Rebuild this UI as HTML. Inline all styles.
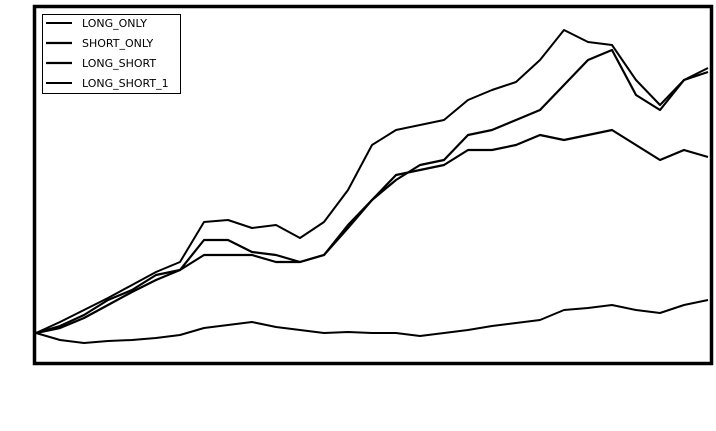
<!DOCTYPE html>
<html><head><meta charset="utf-8"><style>
body{margin:0;background:#fff;}
svg{display:block;font-family:"DejaVu Sans","Liberation Sans",sans-serif;}
</style></head><body>
<svg id="chart" width="716" height="431">
<rect x="34.5" y="6.5" width="677" height="357" fill="#fff" stroke="#000" stroke-width="3.5"/>
<g id="lines"></g>
<g>
<rect x="42.5" y="14.5" width="138" height="79" fill="#fff" stroke="#000" stroke-width="1"/>
<g id="legend-items"></g>
</g>
</svg>
<script>
const dates = [0,1,2,3,4,5,6,7,8,9,10,11,12,13,14,15,16,17,18,19,20,21,22,23,24,25,26,27,28];
const seriesNames = ["LONG_ONLY","SHORT_ONLY","LONG_SHORT","LONG_SHORT_1"];
const longOnly = [1.0,0.93,0.90,0.92,0.93,0.95,0.98,1.05,1.08,1.11,1.06,1.03,1.0,1.01,1.0,1.0,0.97,1.0,1.03,1.07,1.10,1.13,1.23,1.25,1.28,1.23,1.20,1.28,1.33];
const shortOnly = [1.0,1.05,1.15,1.28,1.41,1.53,1.63,1.78,1.78,1.78,1.71,1.71,1.78,2.05,2.33,2.58,2.63,2.68,2.83,2.83,2.88,2.98,2.93,2.98,3.03,2.88,2.73,2.83,2.76];
const longShort = [1.0,1.07,1.18,1.33,1.43,1.58,1.63,1.93,1.93,1.81,1.78,1.71,1.78,2.08,2.33,2.53,2.68,2.73,2.98,3.03,3.13,3.23,3.48,3.73,3.83,3.38,3.23,3.53,3.61];
const longShort1 = [1.0,1.11,1.23,1.35,1.48,1.61,1.71,2.11,2.13,2.05,2.08,1.95,2.11,2.43,2.88,3.03,3.08,3.13,3.33,3.43,3.51,3.73,4.03,3.91,3.88,3.53,3.28,3.53,3.65];
const allSeries = [longOnly, shortOnly, longShort, longShort1];
const widths = [2,2.2,2.2,2];

const X0=36, X1=708, YMIN=0.71, YMAX=4.26, PY0=362, PY1=7;
function xScale(i){return X0 + (i - dates[0])/(dates[dates.length-1]-dates[0])*(X1-X0);}
function yScale(v){return PY0 - (v-YMIN)/(YMAX-YMIN)*(PY0-PY1);}
const NS="http://www.w3.org/2000/svg";
const g=document.getElementById('lines');
allSeries.forEach((s,k)=>{
  const p=document.createElementNS(NS,'path');
  p.setAttribute('d', s.map((v,i)=>(i?'L':'M')+xScale(dates[i]).toFixed(1)+','+yScale(v).toFixed(1)).join(''));
  p.setAttribute('fill','none');p.setAttribute('stroke','#000');
  p.setAttribute('stroke-width',widths[k]);p.setAttribute('stroke-linejoin','round');
  
  
  g.appendChild(p);
});
const lg=document.getElementById('legend-items');
seriesNames.forEach((n,k)=>{
  const y=23+k*20;
  const l=document.createElementNS(NS,'line');
  l.setAttribute('x1',46);l.setAttribute('x2',72);l.setAttribute('y1',y);l.setAttribute('y2',y);
  l.setAttribute('stroke','#000');l.setAttribute('stroke-width',widths[k]);
  
  
  lg.appendChild(l);
  const t=document.createElementNS(NS,'text');
  t.setAttribute('x',82);t.setAttribute('y',y+4);t.setAttribute('font-size','11');
  t.textContent=n;
  
  
  lg.appendChild(t);
});
</script>
</body></html>
